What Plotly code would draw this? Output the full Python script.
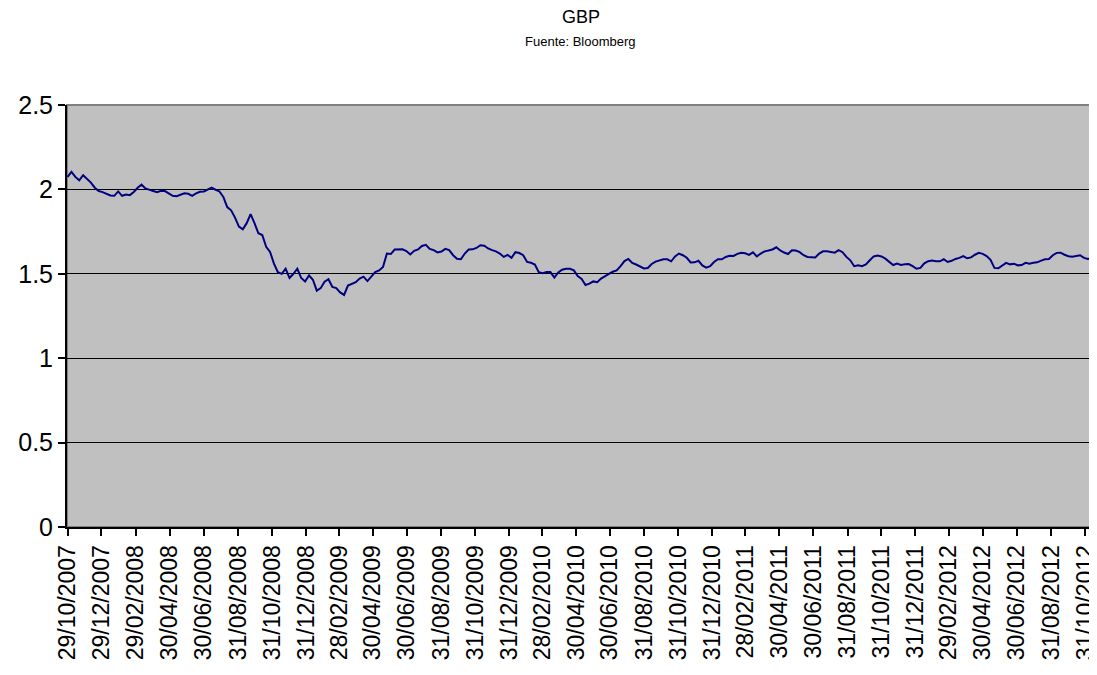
import plotly.graph_objects as go
import pandas as pd

# Weekly GBP values (starting 29/10/2007)
start_date = "2007-10-29"
gbp = [
    2.074, 2.104, 2.074, 2.054, 2.084, 2.064, 2.04, 2.01, 1.99, 1.984,
    1.972, 1.964, 1.962, 1.988, 1.962, 1.97, 1.966, 1.985, 2.01, 2.028,
    2.006, 1.996, 1.99, 1.984, 1.992, 1.99, 1.975, 1.962, 1.96, 1.97,
    1.977, 1.974, 1.962, 1.976, 1.986, 1.988, 1.997, 2.01, 1.998, 1.988,
    1.955, 1.895, 1.876, 1.833, 1.78, 1.764, 1.80, 1.853, 1.80, 1.74,
    1.73, 1.66, 1.63, 1.56, 1.51, 1.50, 1.53, 1.475, 1.50, 1.53,
    1.475, 1.454, 1.49, 1.465, 1.40, 1.415, 1.453, 1.468, 1.422, 1.415,
    1.39, 1.375, 1.43, 1.44, 1.45, 1.472, 1.483, 1.457, 1.483, 1.51,
    1.52, 1.54, 1.62, 1.617, 1.644, 1.644, 1.645, 1.635, 1.615, 1.636,
    1.644, 1.665, 1.672, 1.648, 1.64, 1.627, 1.632, 1.648, 1.64, 1.61,
    1.589, 1.586, 1.62, 1.644, 1.645, 1.653, 1.669, 1.666, 1.65, 1.64,
    1.633, 1.62, 1.60, 1.612, 1.595, 1.628, 1.623, 1.61, 1.57, 1.565,
    1.555, 1.51, 1.503, 1.51, 1.51, 1.478, 1.508, 1.524, 1.53, 1.53,
    1.52, 1.487, 1.47, 1.434, 1.442, 1.455, 1.45, 1.472, 1.488, 1.50,
    1.512, 1.52, 1.545, 1.575, 1.588, 1.564, 1.555, 1.542, 1.532, 1.534,
    1.558, 1.572, 1.58, 1.586, 1.586, 1.574, 1.603, 1.62, 1.61, 1.595,
    1.567, 1.568, 1.577, 1.55, 1.536, 1.545, 1.57, 1.586, 1.586, 1.60,
    1.607, 1.606, 1.618, 1.625, 1.622, 1.612, 1.627, 1.603, 1.62, 1.633,
    1.638, 1.644, 1.657, 1.638, 1.626, 1.617, 1.64, 1.638, 1.628, 1.61,
    1.60, 1.60, 1.597, 1.62, 1.633, 1.634, 1.63, 1.625, 1.64, 1.628,
    1.60, 1.58, 1.545, 1.55, 1.545, 1.555, 1.58, 1.603, 1.608, 1.603,
    1.59, 1.568, 1.552, 1.56, 1.552, 1.556, 1.558, 1.545, 1.53, 1.535,
    1.562, 1.575, 1.579, 1.575, 1.574, 1.586, 1.57, 1.577, 1.588, 1.594,
    1.605, 1.592, 1.597, 1.613, 1.624, 1.618, 1.605, 1.583, 1.535, 1.533,
    1.55, 1.565, 1.556, 1.56, 1.55, 1.552, 1.565, 1.56, 1.566, 1.568,
    1.578, 1.586, 1.588, 1.61, 1.624, 1.625, 1.613, 1.604, 1.601, 1.605,
    1.61, 1.594, 1.588, 1.592,
]
dates = pd.date_range(start=start_date, periods=len(gbp), freq="7D")

tick_dates = [
    "2007-10-29", "2007-12-29", "2008-02-29", "2008-04-30", "2008-06-30",
    "2008-08-31", "2008-10-31", "2008-12-31", "2009-02-28", "2009-04-30",
    "2009-06-30", "2009-08-31", "2009-10-31", "2009-12-31", "2010-02-28",
    "2010-04-30", "2010-06-30", "2010-08-31", "2010-10-31", "2010-12-31",
    "2011-02-28", "2011-04-30", "2011-06-30", "2011-08-31", "2011-10-31",
    "2011-12-31", "2012-02-29", "2012-04-30", "2012-06-30", "2012-08-31",
    "2012-10-31",
]
tick_labels = [pd.Timestamp(d).strftime("%d/%m/%Y") for d in tick_dates]
y_ticks = [0, 0.5, 1, 1.5, 2, 2.5]
y_labels = ["0", "0.5", "1", "1.5", "2", "2.5"]

fig = go.Figure()
fig.add_trace(go.Scatter(
    x=dates, y=gbp, mode="lines",
    line=dict(color="#000080", width=2),
    showlegend=False, hoverinfo="x+y",
))

font_family = "Liberation Sans, Arial, sans-serif"
# page body has an 8px margin, so the figure is sized/shifted to compensate
W, H = 1089, 667
M_L, M_R, M_T, M_B = 59, 3, 97, 148
plot_h = H - M_T - M_B

fig.update_layout(
    width=W, height=H,
    margin=dict(l=M_L, r=M_R, t=M_T, b=M_B, autoexpand=False),
    paper_bgcolor="white",
    plot_bgcolor="#C0C0C0",
    font=dict(family=font_family, color="black"),
    xaxis=dict(
        range=["2007-10-28", "2012-11-16"],
        tickmode="array", tickvals=tick_dates, ticktext=tick_labels,
        tickangle=-90, tickfont=dict(size=23, color="black"),
        ticks="outside", ticklen=7, tickcolor="black", tickwidth=2,
        showgrid=False, zeroline=False, automargin=False,
        showline=True, linecolor="black", linewidth=2,
        ticklabeloverflow="allow",
    ),
    yaxis=dict(
        range=[0, 2.5],
        tickmode="array", tickvals=y_ticks, ticktext=y_labels,
        tickfont=dict(size=25, color="black"),
        ticks="outside", ticklen=7, tickcolor="black", tickwidth=2,
        showgrid=True, gridcolor="black", gridwidth=1,
        zeroline=False, automargin=False,
        showline=True, linecolor="black", linewidth=2,
    ),
    shapes=[dict(
        type="rect", xref="x domain", yref="y domain",
        x0=0, x1=1, y0=0, y1=1,
        line=dict(color="#808080", width=2), layer="below",
    )],
)

fig.add_annotation(text="GBP", x=0.5, xref="paper",
                   y=1 + (M_T - 9) / plot_h, yref="paper",
                   showarrow=False, font=dict(size=18, color="black"),
                   yanchor="middle")
fig.add_annotation(text="Fuente: Bloomberg", x=0.5, xref="paper",
                   y=1 + (M_T - 33) / plot_h, yref="paper",
                   showarrow=False, font=dict(size=13, color="black"),
                   yanchor="middle")

fig.write_html("out.html")
